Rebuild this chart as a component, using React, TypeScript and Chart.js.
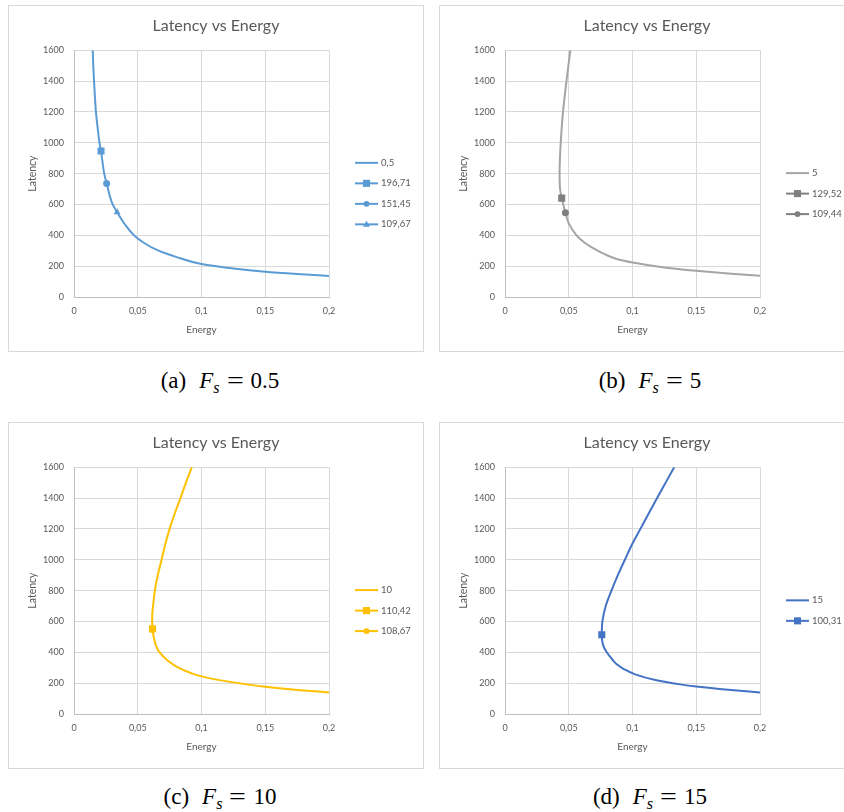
import React, { useEffect, useRef } from 'react';
import { Chart, registerables } from 'chart.js';

Chart.register(...registerables);

// ---- tick labels ----
const xTickLabels = ['0', '0,05', '0,1', '0,15', '0,2'];
const yTickLabels = ['0', '200', '400', '600', '800', '1000', '1200', '1400', '1600'];

// ---- panel (a): Fs = 0.5 ----
const energyA = [0.0147, 0.0151, 0.0157, 0.0164, 0.0172, 0.0185, 0.0200, 0.0212, 0.0237, 0.0256, 0.0303, 0.0338, 0.0400, 0.0470, 0.0550, 0.0650, 0.0800, 0.1000, 0.1250, 0.1500, 0.1750, 0.2000];
const latencyA = [1600, 1500, 1400, 1300, 1200, 1100, 1000, 946, 800, 736, 600, 550, 470, 400, 350, 305, 260, 214, 185, 164, 149, 136];
const markerLabelsA = ['196,71', '151,45', '109,67'];
const markerEnergyA = [0.0212, 0.0256, 0.0338];
const markerLatencyA = [946, 736, 550];

// ---- panel (b): Fs = 5 ----
const energyB = [0.0513, 0.0497, 0.0482, 0.0468, 0.0455, 0.0445, 0.0437, 0.0431, 0.0428, 0.0432, 0.0445, 0.0474, 0.0500, 0.0561, 0.0620, 0.0671, 0.0780, 0.0882, 0.1000, 0.1250, 0.1500, 0.1750, 0.2000];
const latencyB = [1600, 1500, 1400, 1300, 1200, 1100, 1000, 900, 800, 700, 641, 546, 477, 400, 355, 326, 278, 245, 224, 192, 170, 152, 137];
const markerLabelsB = ['129,52', '109,44'];
const markerEnergyB = [0.0445, 0.0474];
const markerLatencyB = [641, 546];

// ---- panel (c): Fs = 10 ----
const energyC = [0.0924, 0.0878, 0.0835, 0.0790, 0.0750, 0.0716, 0.0687, 0.0657, 0.0634, 0.0620, 0.0614, 0.0613, 0.0616, 0.0626, 0.0645, 0.0666, 0.0732, 0.0810, 0.0916, 0.1000, 0.1250, 0.1500, 0.1750, 0.2000];
const latencyC = [1600, 1500, 1400, 1300, 1200, 1100, 1000, 900, 800, 700, 650, 600, 553, 494, 440, 406, 348, 304, 266, 244, 205, 176, 156, 140];
const markerLabelsC = ['110,42', '108,67'];
const markerEnergyC = [0.0616, 0.0617];
const markerLatencyC = [553, 548];

// ---- panel (d): Fs = 15 ----
const energyD = [0.1327, 0.1260, 0.1193, 0.1127, 0.1062, 0.0997, 0.0940, 0.0885, 0.0835, 0.0790, 0.0764, 0.0759, 0.0768, 0.0798, 0.0845, 0.0877, 0.0935, 0.1021, 0.1180, 0.1374, 0.1500, 0.1750, 0.2000];
const latencyD = [1600, 1500, 1400, 1300, 1200, 1100, 1000, 900, 800, 700, 600, 514, 450, 400, 350, 322, 290, 257, 220, 192, 178, 157, 140];
const markerLabelsD = ['100,31'];
const markerEnergyD = [0.0759];
const markerLatencyD = [514];

const MARKER_STYLES = ['rect', 'circle', 'triangle'];
const MARKER_RADII = [5, 3.5, 4];

type PanelDef = {
  key: string;
  left: number;
  top: number;
  seriesLabel: string;
  energy: number[];
  latency: number[];
  markerLabels: string[];
  markerEnergy: number[];
  markerLatency: number[];
  lineColor: string;
  markerColor: string;
  letter: string;
  fs: string;
  capX: number;
  capY: number;
};

const panels: PanelDef[] = [
  { key: 'a', left: 8, top: 5, seriesLabel: '0,5', energy: energyA, latency: latencyA, markerLabels: markerLabelsA, markerEnergy: markerEnergyA, markerLatency: markerLatencyA, lineColor: '#5b9bd5', markerColor: '#5b9bd5', letter: '(a)', fs: '0.5', capX: 220, capY: 381 },
  { key: 'b', left: 439, top: 5, seriesLabel: '5', energy: energyB, latency: latencyB, markerLabels: markerLabelsB, markerEnergy: markerEnergyB, markerLatency: markerLatencyB, lineColor: '#a5a5a5', markerColor: '#7f7f7f', letter: '(b)', fs: '5', capX: 650, capY: 381 },
  { key: 'c', left: 8, top: 422, seriesLabel: '10', energy: energyC, latency: latencyC, markerLabels: markerLabelsC, markerEnergy: markerEnergyC, markerLatency: markerLatencyC, lineColor: '#ffc000', markerColor: '#ffc000', letter: '(c)', fs: '10', capX: 220, capY: 797 },
  { key: 'd', left: 439, top: 422, seriesLabel: '15', energy: energyD, latency: latencyD, markerLabels: markerLabelsD, markerEnergy: markerEnergyD, markerLatency: markerLatencyD, lineColor: '#4472c4', markerColor: '#4472c4', letter: '(d)', fs: '15', capX: 650, capY: 797 },
];

function drawMarker(ctx: CanvasRenderingContext2D, style: string, x: number, y: number, r: number, color: string) {
  ctx.fillStyle = color;
  ctx.beginPath();
  if (style === 'rect') {
    const s = r * Math.SQRT1_2;
    ctx.rect(x - s, y - s, 2 * s, 2 * s);
  } else if (style === 'circle') {
    ctx.arc(x, y, r * 0.85, 0, Math.PI * 2);
  } else if (style === 'triangle') {
    const h = r * 1.5;
    const half = h / Math.sqrt(3);
    ctx.moveTo(x, y - h * 0.6);
    ctx.lineTo(x + half, y + h * 0.4);
    ctx.lineTo(x - half, y + h * 0.4);
    ctx.closePath();
  }
  ctx.fill();
}

const excelLegend = {
  id: 'excelLegend',
  afterDraw(chart: any) {
    const { ctx, chartArea } = chart;
    const ds = chart.data.datasets;
    const n = ds.length;
    const cy = (chartArea.top + chartArea.bottom) / 2 + 20;
    const x0 = chartArea.right + 26;
    ctx.save();
    ds.forEach((d: any, i: number) => {
      const y = cy + (i - (n - 1) / 2) * 20.5;
      ctx.strokeStyle = d.borderColor;
      ctx.lineWidth = 2;
      ctx.beginPath();
      ctx.moveTo(x0, y);
      ctx.lineTo(x0 + 23, y);
      ctx.stroke();
      if (d.showLine === false) {
        drawMarker(ctx, d.pointStyle, x0 + 11.5, y, d.pointRadius, d.backgroundColor);
      }
      ctx.fillStyle = '#595959';
      ctx.font = '9.5px Lato';
      ctx.textBaseline = 'middle';
      ctx.textAlign = 'left';
      ctx.fillText(d.label, x0 + 26, y);
    });
    ctx.restore();
  },
};

function Panel({ p }: { p: PanelDef }) {
  const ref = useRef<HTMLCanvasElement | null>(null);
  useEffect(() => {
    if (!ref.current) return;
    const datasets: any[] = [
      {
        label: p.seriesLabel,
        data: p.energy.map((x, i) => ({ x, y: p.latency[i] })),
        showLine: true,
        indexAxis: 'y',
        cubicInterpolationMode: 'monotone',
        borderColor: p.lineColor,
        backgroundColor: p.lineColor,
        borderWidth: 2,
        pointRadius: 0,
        fill: false,
        order: 10,
      },
      ...p.markerLabels.map((lab, i) => ({
        label: lab,
        data: [{ x: p.markerEnergy[i], y: p.markerLatency[i] }],
        showLine: false,
        pointStyle: MARKER_STYLES[i],
        pointRadius: MARKER_RADII[i],
        backgroundColor: p.markerColor,
        borderColor: p.markerColor,
        borderWidth: 0,
        order: i + 1,
      })),
    ];
    const chart = new Chart(ref.current, {
      type: 'line',
      data: { datasets },
      plugins: [excelLegend],
      options: {
        responsive: false,
        animation: false,
        events: [],
        layout: { padding: 0 },
        plugins: {
          legend: { display: false },
          tooltip: { enabled: false },
          title: {
            display: true,
            text: 'Latency vs Energy',
            color: '#595959',
            font: { family: 'Lato', size: 16, weight: 'normal' },
            padding: { top: 10, bottom: 15 },
          },
        },
        scales: {
          x: {
            type: 'linear',
            min: 0,
            max: 0.2,
            afterFit: (s: any) => { s.height = 54; },
            ticks: {
              stepSize: 0.05,
              autoSkip: false,
              maxRotation: 0,
              padding: 9,
              color: '#595959',
              font: { family: 'Lato', size: 9 },
              callback: (_v: any, i: number) => xTickLabels[i],
            },
            grid: { color: '#d9d9d9', drawTicks: false },
            border: { color: '#bfbfbf' },
            title: {
              display: true,
              text: 'Energy',
              color: '#595959',
              font: { family: 'Lato', size: 10 },
              padding: { top: 0, bottom: 15 },
            },
          },
          y: {
            type: 'linear',
            position: 'left',
            min: 0,
            max: 1600,
            afterFit: (s: any) => { s.width = 65; },
            ticks: {
              stepSize: 200,
              autoSkip: false,
              padding: 10,
              color: '#595959',
              font: { family: 'Lato', size: 9 },
              callback: (_v: any, i: number) => yTickLabels[i],
            },
            grid: { color: '#d9d9d9', drawTicks: false },
            border: { color: '#bfbfbf' },
            title: {
              display: true,
              text: 'Latency',
              color: '#595959',
              font: { family: 'Lato', size: 10.5 },
              padding: { top: 17, bottom: 0 },
            },
          },
          legendSpace: {
            type: 'linear',
            position: 'right',
            axis: 'y',
            min: 0,
            max: 1600,
            afterFit: (s: any) => { s.width = 94; },
            ticks: { display: false },
            grid: { display: false, drawOnChartArea: false, drawTicks: false },
            border: { display: false },
          },
        },
      } as any,
    });
    return () => chart.destroy();
  }, [p]);

  return (
    <>
      <div
        style={{
          position: 'absolute',
          left: p.left,
          top: p.top,
          width: 414,
          height: 345,
          border: '1px solid #d9d9d9',
          background: '#fff',
        }}
      >
        <canvas ref={ref} width={414} height={345} style={{ display: 'block', width: 414, height: 345 }} />
      </div>
      <div
        style={{
          position: 'absolute',
          left: p.capX - 150,
          top: p.capY - 14,
          width: 300,
          height: 28,
          lineHeight: '28px',
          textAlign: 'center',
          fontFamily: '"Liberation Serif", serif',
          fontSize: 23,
          color: '#000',
          whiteSpace: 'nowrap',
        }}
      >
        <span>{p.letter}</span>
        <span style={{ display: 'inline-block', width: 13 }} />
        <i>F</i>
        <span style={{ fontSize: '0.7em', position: 'relative', top: '0.3em' }}><i>s</i></span>
        <span style={{ display: 'inline-block', margin: '0 9px', transform: 'scaleX(1.3)' }}>=</span>
        <span>{p.fs}</span>
      </div>
    </>
  );
}

export default function App() {
  return (
    <div
      style={{
        position: 'absolute',
        left: 0,
        top: 0,
        width: 844,
        height: 812,
        overflow: 'hidden',
        background: '#fff',
      }}
    >
      {panels.map((p) => (
        <Panel key={p.key} p={p} />
      ))}
    </div>
  );
}
